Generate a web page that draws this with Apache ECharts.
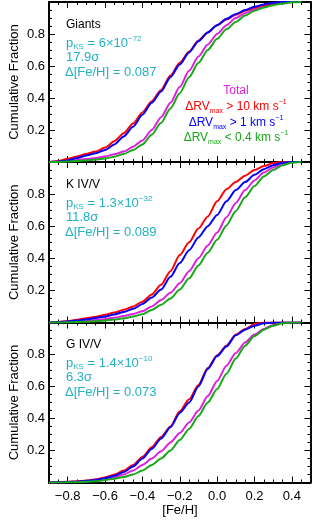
<!DOCTYPE html>
<html><head><meta charset="utf-8">
<script src="https://cdn.jsdelivr.net/npm/echarts@6/dist/echarts.min.js"></script>
<style>html,body{margin:0;padding:0;background:#fff}#c{width:319px;height:520px}</style>
</head><body><div id="c"></div>
<script>
// [Fe/H] sample grid
const feh = [-0.90,-0.85,-0.80,-0.75,-0.70,-0.65,-0.60,-0.55,-0.50,-0.45,-0.40,-0.35,-0.30,-0.25,-0.20,-0.15,-0.10,-0.05,0.00,0.05,0.10,0.15,0.20,0.25,0.30,0.35,0.40,0.45];

// Panel 1: Giants
const giantsTotal = [0,0.002,0.006,0.012,0.018,0.025,0.035,0.048,0.065,0.095,0.135,0.20,0.28,0.37,0.47,0.57,0.66,0.735,0.80,0.855,0.90,0.93,0.955,0.97,0.985,0.995,1,1];
const giantsRV10  = [0,0.005,0.02,0.035,0.05,0.065,0.09,0.13,0.18,0.24,0.31,0.38,0.45,0.54,0.62,0.69,0.76,0.81,0.855,0.89,0.92,0.945,0.965,0.98,0.99,1,1,1];
const giantsRV1   = [0,0.003,0.01,0.025,0.04,0.055,0.075,0.11,0.16,0.22,0.295,0.37,0.44,0.53,0.61,0.685,0.755,0.81,0.855,0.895,0.925,0.95,0.97,0.985,0.995,1,1,1];
const giantsRV04  = [0,0,0.003,0.006,0.01,0.015,0.022,0.033,0.05,0.075,0.11,0.17,0.245,0.335,0.43,0.53,0.62,0.70,0.77,0.83,0.875,0.915,0.945,0.965,0.98,0.99,0.998,1];

// Panel 2: K IV/V
const kTotal = [0,0.001,0.003,0.006,0.01,0.015,0.022,0.03,0.04,0.053,0.07,0.10,0.14,0.185,0.245,0.32,0.40,0.48,0.56,0.655,0.745,0.825,0.885,0.935,0.965,0.99,1,1];
const kRV10  = [0,0.003,0.008,0.017,0.027,0.036,0.048,0.062,0.08,0.10,0.13,0.175,0.235,0.32,0.42,0.50,0.585,0.66,0.755,0.83,0.875,0.915,0.95,0.975,0.993,1,1,1];
const kRV1   = [0,0.002,0.006,0.012,0.02,0.028,0.038,0.05,0.065,0.085,0.115,0.155,0.205,0.285,0.37,0.45,0.53,0.60,0.67,0.755,0.825,0.875,0.92,0.955,0.98,0.995,1,1];
const kRV04  = [0,0,0.001,0.003,0.005,0.008,0.012,0.018,0.026,0.037,0.052,0.078,0.11,0.15,0.205,0.275,0.355,0.435,0.515,0.605,0.695,0.78,0.85,0.91,0.95,0.98,0.995,1];

// Panel 3: G IV/V
const gTotal = [0,0.001,0.002,0.004,0.007,0.012,0.02,0.032,0.05,0.075,0.11,0.15,0.195,0.25,0.31,0.375,0.45,0.54,0.635,0.73,0.81,0.875,0.925,0.96,0.985,1,1,1];
const gRV10  = [0,0.002,0.004,0.007,0.012,0.02,0.032,0.05,0.075,0.11,0.16,0.22,0.285,0.35,0.445,0.52,0.61,0.715,0.795,0.855,0.925,0.96,0.99,1,1,1,1,1];
const gRV1   = [0,0.001,0.003,0.005,0.01,0.016,0.027,0.042,0.065,0.10,0.15,0.21,0.275,0.345,0.435,0.50,0.60,0.71,0.79,0.85,0.92,0.955,0.98,0.995,1,1,1,1];
const gRV04  = [0,0,0.001,0.002,0.004,0.008,0.015,0.024,0.035,0.05,0.075,0.11,0.15,0.20,0.265,0.335,0.415,0.50,0.585,0.68,0.775,0.855,0.915,0.955,0.98,0.995,1,1];

// Ticks
const xTickLabels = [-0.8,-0.6,-0.4,-0.2,0,0.2,0.4];
const xMinorTicks = [-0.85,-0.75,-0.7,-0.65,-0.55,-0.5,-0.45,-0.35,-0.3,-0.25,-0.15,-0.1,-0.05,0.05,0.1,0.15,0.25,0.3,0.35,0.45];
const yTickLabels = [0.2,0.4,0.6,0.8];
const yMinorTicks = [0.05,0.1,0.15,0.25,0.3,0.35,0.45,0.5,0.55,0.65,0.7,0.75,0.85,0.9,0.95];

// Texts
const panelNames = ['Giants','K IV/V','G IV/V'];
const pksMant = ['6\u00d7','1.3\u00d7','1.4\u00d7'];
const pksExp = ['\u221272','\u221232','\u221210'];
const sigmas = ['17.9\u03c3','11.8\u03c3','6.3\u03c3'];
const dFeH = ['0.087','0.089','0.073'];
const legendLabels = ['Total','> 10 km s','> 1 km s','< 0.4 km s'];

const FONT = '"Liberation Sans", Arial, sans-serif';
const CYAN = '#22b0c4';
const colors = ['#e01ee0','#ff0000','#0000ff','#16a816'];

const tops = [2,162,322.5];
const heights = [160,160.5,160];
const L = 49, W = 261.5;

const grids = [], xAxes = [], yAxes = [], series = [], graphics = [];
const fmtX = v => (v < 0 ? '\u2212' : '') + Math.abs(v).toFixed(1);

for (let g = 0; g < 3; g++) {
  grids.push({left: L, top: tops[g], width: W, height: heights[g], containLabel: false, outerBoundsMode: 'none'});
  const lineOn = {show: true, onZero: false, lineStyle: {color: '#000', width: 2}};
  const lineOff = {show: false, onZero: false};
  const baseX = {type: 'value', gridIndex: g, min: -0.9, max: 0.5, splitLine: {show: false}};
  xAxes.push(Object.assign({}, baseX, {position: 'bottom', axisLine: lineOn,
    axisTick: {show: true, inside: true, length: 6, customValues: xTickLabels, lineStyle: {color: '#000', width: 1}},
    axisLabel: {show: g === 2, customValues: xTickLabels, formatter: fmtX, color: '#000', fontSize: 13, fontFamily: FONT, margin: 7}}));
  xAxes.push(Object.assign({}, baseX, {position: 'bottom', axisLine: lineOff,
    axisTick: {show: true, inside: true, length: 3, customValues: xMinorTicks, lineStyle: {color: '#000', width: 1}},
    axisLabel: {show: false}}));
  xAxes.push(Object.assign({}, baseX, {position: 'top', axisLine: lineOn,
    axisTick: {show: true, inside: true, length: 6, customValues: xTickLabels, lineStyle: {color: '#000', width: 1}},
    axisLabel: {show: false}}));
  xAxes.push(Object.assign({}, baseX, {position: 'top', axisLine: lineOff,
    axisTick: {show: true, inside: true, length: 3, customValues: xMinorTicks, lineStyle: {color: '#000', width: 1}},
    axisLabel: {show: false}}));

  const baseY = {type: 'value', gridIndex: g, min: 0, max: 1, splitLine: {show: false}};
  yAxes.push(Object.assign({}, baseY, {position: 'left', axisLine: lineOn,
    axisTick: {show: true, inside: true, length: 6, customValues: yTickLabels, lineStyle: {color: '#000', width: 1}},
    axisLabel: {show: true, customValues: yTickLabels, formatter: v => v.toFixed(1), color: '#000', fontSize: 13, fontFamily: FONT, margin: 4}}));
  yAxes.push(Object.assign({}, baseY, {position: 'left', axisLine: lineOff,
    axisTick: {show: true, inside: true, length: 3, customValues: yMinorTicks, lineStyle: {color: '#000', width: 1}},
    axisLabel: {show: false}}));
  yAxes.push(Object.assign({}, baseY, {position: 'right', axisLine: lineOn,
    axisTick: {show: true, inside: true, length: 6, customValues: yTickLabels, lineStyle: {color: '#000', width: 1}},
    axisLabel: {show: false}}));
  yAxes.push(Object.assign({}, baseY, {position: 'right', axisLine: lineOff,
    axisTick: {show: true, inside: true, length: 3, customValues: yMinorTicks, lineStyle: {color: '#000', width: 1}},
    axisLabel: {show: false}}));
}

const panelData = [
  [giantsTotal, giantsRV10, giantsRV1, giantsRV04],
  [kTotal, kRV10, kRV1, kRV04],
  [gTotal, gRV10, gRV1, gRV04]
];
panelData.forEach((arrs, g) => {
  arrs.forEach((vals, k) => {
    series.push({type: 'line', xAxisIndex: g * 4, yAxisIndex: g * 4, silent: true,
      data: feh.map((x, i) => [x, vals[i]]), showSymbol: false, symbol: 'none',
      smooth: 0.25, smoothMonotone: 'x',
      lineStyle: {color: colors[k], width: 2}, itemStyle: {color: colors[k]}});
  });
});

function richText(x, y, text, color, size, align) {
  const sub = Math.round(size * 0.62);
  return {type: 'text', x: x, y: y, silent: true, z: 100,
    style: {text: text, fill: color, align: align || 'left', verticalAlign: 'middle',
      fontSize: size, fontFamily: FONT,
      rich: {
        a: {fontSize: size, fontFamily: FONT, lineHeight: 16, fill: color},
        b: {fontSize: sub, fontFamily: FONT, lineHeight: 9, verticalAlign: 'bottom', fill: color},
        c: {fontSize: sub, fontFamily: FONT, lineHeight: 6, verticalAlign: 'top', fill: color}
      }}};
}

for (let g = 0; g < 3; g++) {
  const off = g * 160;
  graphics.push(richText(66, 24.5 + off, '{a|' + panelNames[g] + '}', '#000', 12));
  graphics.push(richText(66, 43 + off, '{a|p}{b|KS}{a| = ' + pksMant[g] + '10}{c|' + pksExp[g] + '}', CYAN, 13));
  graphics.push(richText(66, 57 + off, '{a|' + sigmas[g] + '}', CYAN, 13));
  graphics.push(richText(65, 72 + off, '{a|\u0394[Fe/H] = ' + dFeH[g] + '}', CYAN, 13));
  const cy = tops[g] + heights[g] / 2;
  graphics.push({type: 'text', x: 14, y: cy, rotation: Math.PI / 2, silent: true,
    style: {text: 'Cumulative Fraction', fill: '#000', fontSize: 13, fontFamily: FONT, align: 'center', verticalAlign: 'middle'}});
}
graphics.push(richText(236, 91, '{a|' + legendLabels[0] + '}', colors[0], 12, 'center'));
const legY = [107, 122.5, 137.5];
for (let k = 1; k < 4; k++) {
  graphics.push(richText(236, legY[k - 1], '{a|\u0394RV}{b|max}{a| ' + legendLabels[k] + '}{c|\u22121}', colors[k], 12, 'center'));
}
graphics.push({type: 'text', x: 180, y: 510, silent: true,
  style: {text: '[Fe/H]', fill: '#000', fontSize: 13, fontFamily: FONT, align: 'center', verticalAlign: 'middle'}});

const chart = echarts.init(document.getElementById('c'), null, {renderer: 'canvas'});
chart.setOption({
  animation: false,
  backgroundColor: '#fff',
  grid: grids, xAxis: xAxes, yAxis: yAxes, series: series, graphic: graphics
});
</script></body></html>
